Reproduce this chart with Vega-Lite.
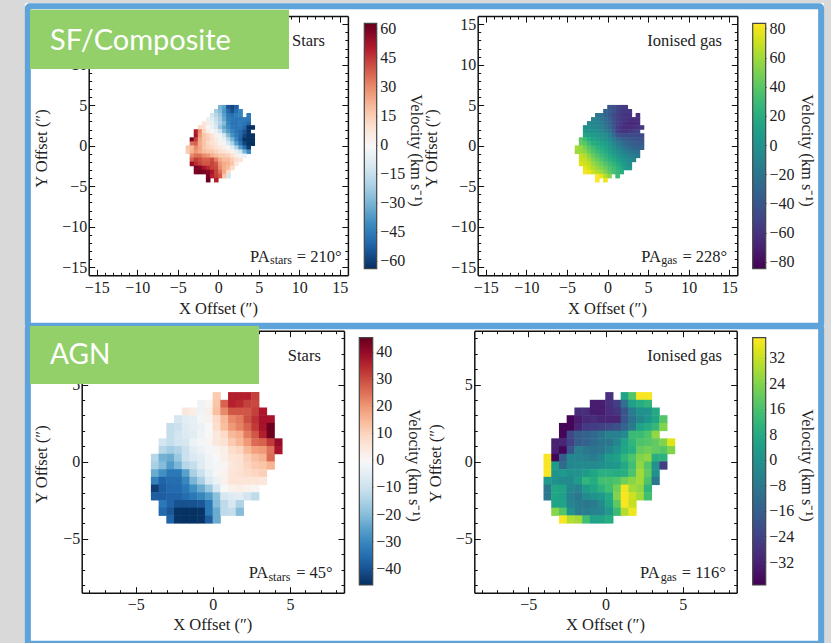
{"$schema":"https://vega.github.io/schema/vega-lite/v6.json","width":831,"height":643,"autosize":"none","padding":0,"background":"#ffffff",
"config":{"view":{"stroke":null},"axis":{"grid":false,"labelFont":"Liberation Serif","titleFont":"Liberation Serif","labelFontSize":16,"titleFontSize":16.5,"titleFontWeight":"normal","labelColor":"#222222","titleColor":"#222222","tickColor":"#111111","domainColor":"#111111","domainWidth":1.5,"tickWidth":1,"labelOverlap":false,"labelFlush":false,"labelBound":false,"titleAlign":"center","titleBaseline":"middle","format":"d"},"text":{"font":"Liberation Serif","fontSize":16.5,"color":"#222222","baseline":"alphabetic","align":"left"},"legend":{"title":null,"labelOpacity":0,"gradientStrokeColor":"#444444","gradientStrokeWidth":1.2}},
"resolve":{"scale":{"x":"independent","y":"independent","color":"independent"},"axis":{"x":"independent","y":"independent"},"legend":{"color":"independent"}},
"datasets":{
"sfStars":[{"x":0.25,"y":4.75,"v":-30},{"x":0.75,"y":4.75,"v":-35},{"x":1.25,"y":4.75,"v":-55},{"x":1.75,"y":4.75,"v":-58},{"x":2.25,"y":4.75,"v":-52},
{"x":-0.25,"y":4.25,"v":-22},{"x":0.25,"y":4.25,"v":-28},{"x":0.75,"y":4.25,"v":-37},{"x":1.25,"y":4.25,"v":-50},{"x":1.75,"y":4.25,"v":-56},{"x":2.25,"y":4.25,"v":-48},{"x":2.75,"y":4.25,"v":-42},
{"x":-0.75,"y":3.75,"v":-12},{"x":-0.25,"y":3.75,"v":-18},{"x":0.25,"y":3.75,"v":-25},{"x":0.75,"y":3.75,"v":-35},{"x":1.25,"y":3.75,"v":-46},{"x":1.75,"y":3.75,"v":-48},{"x":2.25,"y":3.75,"v":-44},{"x":2.75,"y":3.75,"v":-42},{"x":3.75,"y":3.75,"v":-45},
{"x":-1.25,"y":3.25,"v":-4},{"x":-0.75,"y":3.25,"v":-8},{"x":-0.25,"y":3.25,"v":-15},{"x":0.25,"y":3.25,"v":-22},{"x":0.75,"y":3.25,"v":-33},{"x":1.25,"y":3.25,"v":-44},{"x":1.75,"y":3.25,"v":-46},{"x":2.25,"y":3.25,"v":-47},{"x":2.75,"y":3.25,"v":-46},{"x":3.25,"y":3.25,"v":-45},{"x":3.75,"y":3.25,"v":-46},
{"x":-1.75,"y":2.75,"v":7},{"x":-1.25,"y":2.75,"v":5},{"x":-0.75,"y":2.75,"v":-5},{"x":-0.25,"y":2.75,"v":-13},{"x":0.25,"y":2.75,"v":-20},{"x":0.75,"y":2.75,"v":-28},{"x":1.25,"y":2.75,"v":-42},{"x":1.75,"y":2.75,"v":-47},{"x":2.25,"y":2.75,"v":-47},{"x":2.75,"y":2.75,"v":-45},{"x":3.25,"y":2.75,"v":-47},{"x":3.75,"y":2.75,"v":-50},
{"x":-2.25,"y":2.25,"v":12},{"x":-1.75,"y":2.25,"v":10},{"x":-1.25,"y":2.25,"v":0},{"x":-0.75,"y":2.25,"v":-4},{"x":-0.25,"y":2.25,"v":-11},{"x":0.25,"y":2.25,"v":-24},{"x":0.75,"y":2.25,"v":-33},{"x":1.25,"y":2.25,"v":-40},{"x":1.75,"y":2.25,"v":-46},{"x":2.25,"y":2.25,"v":-47},{"x":2.75,"y":2.25,"v":-46},{"x":3.25,"y":2.25,"v":-50},{"x":3.75,"y":2.25,"v":-63},{"x":4.25,"y":2.25,"v":-63},
{"x":-2.75,"y":1.75,"v":50},{"x":-2.25,"y":1.75,"v":30},{"x":-1.75,"y":1.75,"v":14},{"x":-1.25,"y":1.75,"v":4},{"x":-0.75,"y":1.75,"v":0},{"x":-0.25,"y":1.75,"v":-4},{"x":0.25,"y":1.75,"v":-13},{"x":0.75,"y":1.75,"v":-28},{"x":1.25,"y":1.75,"v":-36},{"x":1.75,"y":1.75,"v":-42},{"x":2.25,"y":1.75,"v":-47},{"x":2.75,"y":1.75,"v":-50},{"x":3.25,"y":1.75,"v":-55},{"x":3.75,"y":1.75,"v":-62},
{"x":-2.75,"y":1.25,"v":52},{"x":-2.25,"y":1.25,"v":28},{"x":-1.75,"y":1.25,"v":18},{"x":-1.25,"y":1.25,"v":14},{"x":-0.75,"y":1.25,"v":8},{"x":-0.25,"y":1.25,"v":3},{"x":0.25,"y":1.25,"v":-2},{"x":0.75,"y":1.25,"v":-12},{"x":1.25,"y":1.25,"v":-28},{"x":1.75,"y":1.25,"v":-38},{"x":2.25,"y":1.25,"v":-45},{"x":2.75,"y":1.25,"v":-50},{"x":3.25,"y":1.25,"v":-58},{"x":3.75,"y":1.25,"v":-63},{"x":4.25,"y":1.25,"v":-63},
{"x":-3.25,"y":0.75,"v":60},{"x":-2.75,"y":0.75,"v":45},{"x":-2.25,"y":0.75,"v":25},{"x":-1.75,"y":0.75,"v":18},{"x":-1.25,"y":0.75,"v":15},{"x":-0.75,"y":0.75,"v":10},{"x":-0.25,"y":0.75,"v":5},{"x":0.25,"y":0.75,"v":2},{"x":0.75,"y":0.75,"v":-5},{"x":1.25,"y":0.75,"v":-18},{"x":1.75,"y":0.75,"v":-30},{"x":2.25,"y":0.75,"v":-42},{"x":2.75,"y":0.75,"v":-52},{"x":3.25,"y":0.75,"v":-63},{"x":3.75,"y":0.75,"v":-63},{"x":4.25,"y":0.75,"v":-63},
{"x":-3.25,"y":0.25,"v":35},{"x":-2.75,"y":0.25,"v":38},{"x":-2.25,"y":0.25,"v":24},{"x":-1.75,"y":0.25,"v":18},{"x":-1.25,"y":0.25,"v":13},{"x":-0.75,"y":0.25,"v":10},{"x":-0.25,"y":0.25,"v":7},{"x":0.25,"y":0.25,"v":2},{"x":0.75,"y":0.25,"v":-2},{"x":1.25,"y":0.25,"v":-10},{"x":1.75,"y":0.25,"v":-20},{"x":2.25,"y":0.25,"v":-35},{"x":2.75,"y":0.25,"v":-47},{"x":3.25,"y":0.25,"v":-58},{"x":3.75,"y":0.25,"v":-63},{"x":4.25,"y":0.25,"v":-63},
{"x":-3.75,"y":-0.25,"v":18},{"x":-3.25,"y":-0.25,"v":20},{"x":-2.75,"y":-0.25,"v":30},{"x":-2.25,"y":-0.25,"v":25},{"x":-1.75,"y":-0.25,"v":18},{"x":-1.25,"y":-0.25,"v":15},{"x":-0.75,"y":-0.25,"v":13},{"x":-0.25,"y":-0.25,"v":9},{"x":0.25,"y":-0.25,"v":7},{"x":0.75,"y":-0.25,"v":3},{"x":1.25,"y":-0.25,"v":-1},{"x":1.75,"y":-0.25,"v":-8},{"x":2.25,"y":-0.25,"v":-20},{"x":2.75,"y":-0.25,"v":-35},{"x":3.25,"y":-0.25,"v":-47},{"x":3.75,"y":-0.25,"v":-60},
{"x":-3.75,"y":-0.75,"v":16},{"x":-3.25,"y":-0.75,"v":22},{"x":-2.75,"y":-0.75,"v":28},{"x":-2.25,"y":-0.75,"v":24},{"x":-1.75,"y":-0.75,"v":20},{"x":-1.25,"y":-0.75,"v":18},{"x":-0.75,"y":-0.75,"v":17},{"x":-0.25,"y":-0.75,"v":14},{"x":0.25,"y":-0.75,"v":11},{"x":0.75,"y":-0.75,"v":9},{"x":1.25,"y":-0.75,"v":6},{"x":1.75,"y":-0.75,"v":2},{"x":2.25,"y":-0.75,"v":-5},{"x":2.75,"y":-0.75,"v":-12},{"x":3.25,"y":-0.75,"v":-30},{"x":3.75,"y":-0.75,"v":-40},
{"x":-3.25,"y":-1.25,"v":30},{"x":-2.75,"y":-1.25,"v":35},{"x":-2.25,"y":-1.25,"v":35},{"x":-1.75,"y":-1.25,"v":30},{"x":-1.25,"y":-1.25,"v":28},{"x":-0.75,"y":-1.25,"v":23},{"x":-0.25,"y":-1.25,"v":20},{"x":0.25,"y":-1.25,"v":17},{"x":0.75,"y":-1.25,"v":16},{"x":1.25,"y":-1.25,"v":15},{"x":1.75,"y":-1.25,"v":10},{"x":2.25,"y":-1.25,"v":5},{"x":2.75,"y":-1.25,"v":-2},{"x":3.25,"y":-1.25,"v":-4},
{"x":-3.25,"y":-1.75,"v":38},{"x":-2.75,"y":-1.75,"v":45},{"x":-2.25,"y":-1.75,"v":42},{"x":-1.75,"y":-1.75,"v":38},{"x":-1.25,"y":-1.75,"v":38},{"x":-0.75,"y":-1.75,"v":42},{"x":-0.25,"y":-1.75,"v":32},{"x":0.25,"y":-1.75,"v":24},{"x":0.75,"y":-1.75,"v":20},{"x":1.25,"y":-1.75,"v":20},{"x":1.75,"y":-1.75,"v":16},{"x":2.25,"y":-1.75,"v":11},{"x":2.75,"y":-1.75,"v":8},
{"x":-3.25,"y":-2.25,"v":55},{"x":-2.75,"y":-2.25,"v":48},{"x":-2.25,"y":-2.25,"v":44},{"x":-1.75,"y":-2.25,"v":40},{"x":-1.25,"y":-2.25,"v":40},{"x":-0.75,"y":-2.25,"v":44},{"x":-0.25,"y":-2.25,"v":40},{"x":0.25,"y":-2.25,"v":28},{"x":0.75,"y":-2.25,"v":24},{"x":1.25,"y":-2.25,"v":22},{"x":1.75,"y":-2.25,"v":18},{"x":2.25,"y":-2.25,"v":6},
{"x":-2.75,"y":-2.75,"v":60},{"x":-2.25,"y":-2.75,"v":58},{"x":-1.75,"y":-2.75,"v":52},{"x":-1.25,"y":-2.75,"v":48},{"x":-0.75,"y":-2.75,"v":44},{"x":-0.25,"y":-2.75,"v":42},{"x":0.25,"y":-2.75,"v":30},{"x":0.75,"y":-2.75,"v":23},{"x":1.25,"y":-2.75,"v":20},{"x":1.75,"y":-2.75,"v":12},
{"x":-2.75,"y":-3.25,"v":60},{"x":-2.25,"y":-3.25,"v":62},{"x":-1.75,"y":-3.25,"v":60},{"x":-1.25,"y":-3.25,"v":58},{"x":-0.75,"y":-3.25,"v":52},{"x":-0.25,"y":-3.25,"v":44},{"x":0.25,"y":-3.25,"v":35},{"x":0.75,"y":-3.25,"v":24},{"x":1.25,"y":-3.25,"v":12},
{"x":-1.25,"y":-3.75,"v":60},{"x":-0.75,"y":-3.75,"v":50},{"x":-0.25,"y":-3.75,"v":45},{"x":0.25,"y":-3.75,"v":40},{"x":0.75,"y":-3.75,"v":18},{"x":1.25,"y":-3.75,"v":-12},
{"x":-1.25,"y":-4.25,"v":63},{"x":-0.25,"y":-4.25,"v":50}],
"sfGas":[{"x":0.25,"y":4.75,"v":-40},{"x":0.75,"y":4.75,"v":-45},{"x":1.25,"y":4.75,"v":-50},{"x":1.75,"y":4.75,"v":-55},{"x":2.25,"y":4.75,"v":-55},
{"x":-0.25,"y":4.25,"v":-30},{"x":0.25,"y":4.25,"v":-35},{"x":0.75,"y":4.25,"v":-42},{"x":1.25,"y":4.25,"v":-50},{"x":1.75,"y":4.25,"v":-55},{"x":2.25,"y":4.25,"v":-57},{"x":2.75,"y":4.25,"v":-58},
{"x":-1.25,"y":3.75,"v":-18},{"x":-0.75,"y":3.75,"v":-22},{"x":-0.25,"y":3.75,"v":-30},{"x":0.25,"y":3.75,"v":-38},{"x":0.75,"y":3.75,"v":-47},{"x":1.25,"y":3.75,"v":-54},{"x":1.75,"y":3.75,"v":-58},{"x":2.25,"y":3.75,"v":-60},{"x":2.75,"y":3.75,"v":-60},{"x":3.75,"y":3.75,"v":-62},
{"x":-1.75,"y":3.25,"v":-10},{"x":-1.25,"y":3.25,"v":-13},{"x":-0.75,"y":3.25,"v":-18},{"x":-0.25,"y":3.25,"v":-26},{"x":0.25,"y":3.25,"v":-34},{"x":0.75,"y":3.25,"v":-45},{"x":1.25,"y":3.25,"v":-53},{"x":1.75,"y":3.25,"v":-58},{"x":2.25,"y":3.25,"v":-60},{"x":2.75,"y":3.25,"v":-62},{"x":3.25,"y":3.25,"v":-63},{"x":3.75,"y":3.25,"v":-62},
{"x":-2.25,"y":2.75,"v":-5},{"x":-1.75,"y":2.75,"v":-7},{"x":-1.25,"y":2.75,"v":-10},{"x":-0.75,"y":2.75,"v":-14},{"x":-0.25,"y":2.75,"v":-22},{"x":0.25,"y":2.75,"v":-30},{"x":0.75,"y":2.75,"v":-42},{"x":1.25,"y":2.75,"v":-52},{"x":1.75,"y":2.75,"v":-58},{"x":2.25,"y":2.75,"v":-62},{"x":2.75,"y":2.75,"v":-65},{"x":3.25,"y":2.75,"v":-65},{"x":3.75,"y":2.75,"v":-62},
{"x":-2.75,"y":2.25,"v":0},{"x":-2.25,"y":2.25,"v":-2},{"x":-1.75,"y":2.25,"v":-4},{"x":-1.25,"y":2.25,"v":-7},{"x":-0.75,"y":2.25,"v":-11},{"x":-0.25,"y":2.25,"v":-20},{"x":0.25,"y":2.25,"v":-28},{"x":0.75,"y":2.25,"v":-40},{"x":1.25,"y":2.25,"v":-55},{"x":1.75,"y":2.25,"v":-60},{"x":2.25,"y":2.25,"v":-63},{"x":2.75,"y":2.25,"v":-63},{"x":3.25,"y":2.25,"v":-62},{"x":3.75,"y":2.25,"v":-60},{"x":4.25,"y":2.25,"v":-58},
{"x":-2.75,"y":1.75,"v":5},{"x":-2.25,"y":1.75,"v":3},{"x":-1.75,"y":1.75,"v":2},{"x":-1.25,"y":1.75,"v":-1},{"x":-0.75,"y":1.75,"v":-6},{"x":-0.25,"y":1.75,"v":-12},{"x":0.25,"y":1.75,"v":-20},{"x":0.75,"y":1.75,"v":-35},{"x":1.25,"y":1.75,"v":-52},{"x":1.75,"y":1.75,"v":-58},{"x":2.25,"y":1.75,"v":-60},{"x":2.75,"y":1.75,"v":-58},{"x":3.25,"y":1.75,"v":-55},{"x":3.75,"y":1.75,"v":-52},
{"x":-2.75,"y":1.25,"v":15},{"x":-2.25,"y":1.25,"v":12},{"x":-1.75,"y":1.25,"v":8},{"x":-1.25,"y":1.25,"v":5},{"x":-0.75,"y":1.25,"v":1},{"x":-0.25,"y":1.25,"v":-3},{"x":0.25,"y":1.25,"v":-12},{"x":0.75,"y":1.25,"v":-25},{"x":1.25,"y":1.25,"v":-40},{"x":1.75,"y":1.25,"v":-46},{"x":2.25,"y":1.25,"v":-47},{"x":2.75,"y":1.25,"v":-47},{"x":3.25,"y":1.25,"v":-47},{"x":3.75,"y":1.25,"v":-48},{"x":4.25,"y":1.25,"v":-48},
{"x":-3.25,"y":0.75,"v":40},{"x":-2.75,"y":0.75,"v":32},{"x":-2.25,"y":0.75,"v":22},{"x":-1.75,"y":0.75,"v":15},{"x":-1.25,"y":0.75,"v":11},{"x":-0.75,"y":0.75,"v":7},{"x":-0.25,"y":0.75,"v":2},{"x":0.25,"y":0.75,"v":-5},{"x":0.75,"y":0.75,"v":-15},{"x":1.25,"y":0.75,"v":-25},{"x":1.75,"y":0.75,"v":-30},{"x":2.25,"y":0.75,"v":-35},{"x":2.75,"y":0.75,"v":-38},{"x":3.25,"y":0.75,"v":-40},{"x":3.75,"y":0.75,"v":-42},{"x":4.25,"y":0.75,"v":-42},
{"x":-3.25,"y":0.25,"v":45},{"x":-2.75,"y":0.25,"v":40},{"x":-2.25,"y":0.25,"v":30},{"x":-1.75,"y":0.25,"v":22},{"x":-1.25,"y":0.25,"v":18},{"x":-0.75,"y":0.25,"v":14},{"x":-0.25,"y":0.25,"v":9},{"x":0.25,"y":0.25,"v":3},{"x":0.75,"y":0.25,"v":-7},{"x":1.25,"y":0.25,"v":-15},{"x":1.75,"y":0.25,"v":-22},{"x":2.25,"y":0.25,"v":-28},{"x":2.75,"y":0.25,"v":-32},{"x":3.25,"y":0.25,"v":-36},{"x":3.75,"y":0.25,"v":-38},{"x":4.25,"y":0.25,"v":-38},
{"x":-3.75,"y":-0.25,"v":62},{"x":-3.25,"y":-0.25,"v":58},{"x":-2.75,"y":-0.25,"v":50},{"x":-2.25,"y":-0.25,"v":40},{"x":-1.75,"y":-0.25,"v":32},{"x":-1.25,"y":-0.25,"v":25},{"x":-0.75,"y":-0.25,"v":20},{"x":-0.25,"y":-0.25,"v":14},{"x":0.25,"y":-0.25,"v":8},{"x":0.75,"y":-0.25,"v":0},{"x":1.25,"y":-0.25,"v":-8},{"x":1.75,"y":-0.25,"v":-14},{"x":2.25,"y":-0.25,"v":-20},{"x":2.75,"y":-0.25,"v":-25},{"x":3.25,"y":-0.25,"v":-30},{"x":3.75,"y":-0.25,"v":-33},{"x":4.25,"y":-0.25,"v":-33},
{"x":-3.75,"y":-0.75,"v":60},{"x":-3.25,"y":-0.75,"v":58},{"x":-2.75,"y":-0.75,"v":55},{"x":-2.25,"y":-0.75,"v":45},{"x":-1.75,"y":-0.75,"v":38},{"x":-1.25,"y":-0.75,"v":30},{"x":-0.75,"y":-0.75,"v":25},{"x":-0.25,"y":-0.75,"v":20},{"x":0.25,"y":-0.75,"v":12},{"x":0.75,"y":-0.75,"v":5},{"x":1.25,"y":-0.75,"v":-2},{"x":1.75,"y":-0.75,"v":-8},{"x":2.25,"y":-0.75,"v":-14},{"x":2.75,"y":-0.75,"v":-18},{"x":3.25,"y":-0.75,"v":-22},{"x":3.75,"y":-0.75,"v":-24},
{"x":-3.25,"y":-1.25,"v":70},{"x":-2.75,"y":-1.25,"v":65},{"x":-2.25,"y":-1.25,"v":55},{"x":-1.75,"y":-1.25,"v":45},{"x":-1.25,"y":-1.25,"v":38},{"x":-0.75,"y":-1.25,"v":30},{"x":-0.25,"y":-1.25,"v":25},{"x":0.25,"y":-1.25,"v":18},{"x":0.75,"y":-1.25,"v":12},{"x":1.25,"y":-1.25,"v":5},{"x":1.75,"y":-1.25,"v":-1},{"x":2.25,"y":-1.25,"v":-6},{"x":2.75,"y":-1.25,"v":-10},{"x":3.25,"y":-1.25,"v":-15},{"x":3.75,"y":-1.25,"v":-18},
{"x":-3.25,"y":-1.75,"v":72},{"x":-2.75,"y":-1.75,"v":70},{"x":-2.25,"y":-1.75,"v":62},{"x":-1.75,"y":-1.75,"v":52},{"x":-1.25,"y":-1.75,"v":45},{"x":-0.75,"y":-1.75,"v":38},{"x":-0.25,"y":-1.75,"v":30},{"x":0.25,"y":-1.75,"v":24},{"x":0.75,"y":-1.75,"v":18},{"x":1.25,"y":-1.75,"v":12},{"x":1.75,"y":-1.75,"v":5},{"x":2.25,"y":-1.75,"v":0},{"x":2.75,"y":-1.75,"v":-5},{"x":3.25,"y":-1.75,"v":-8},
{"x":-3.25,"y":-2.25,"v":75},{"x":-2.75,"y":-2.25,"v":72},{"x":-2.25,"y":-2.25,"v":68},{"x":-1.75,"y":-2.25,"v":58},{"x":-1.25,"y":-2.25,"v":52},{"x":-0.75,"y":-2.25,"v":45},{"x":-0.25,"y":-2.25,"v":38},{"x":0.25,"y":-2.25,"v":32},{"x":0.75,"y":-2.25,"v":25},{"x":1.25,"y":-2.25,"v":18},{"x":1.75,"y":-2.25,"v":12},{"x":2.25,"y":-2.25,"v":5},{"x":2.75,"y":-2.25,"v":-2},
{"x":-2.75,"y":-2.75,"v":78},{"x":-2.25,"y":-2.75,"v":72},{"x":-1.75,"y":-2.75,"v":65},{"x":-1.25,"y":-2.75,"v":58},{"x":-0.75,"y":-2.75,"v":52},{"x":-0.25,"y":-2.75,"v":45},{"x":0.25,"y":-2.75,"v":38},{"x":0.75,"y":-2.75,"v":32},{"x":1.25,"y":-2.75,"v":25},{"x":1.75,"y":-2.75,"v":18},{"x":2.25,"y":-2.75,"v":8},{"x":2.75,"y":-2.75,"v":3},
{"x":-2.75,"y":-3.25,"v":82},{"x":-2.25,"y":-3.25,"v":80},{"x":-1.75,"y":-3.25,"v":72},{"x":-1.25,"y":-3.25,"v":65},{"x":-0.75,"y":-3.25,"v":60},{"x":-0.25,"y":-3.25,"v":52},{"x":0.25,"y":-3.25,"v":42},{"x":0.75,"y":-3.25,"v":35},{"x":1.25,"y":-3.25,"v":28},{"x":1.75,"y":-3.25,"v":22},
{"x":-1.25,"y":-3.75,"v":84},{"x":-0.75,"y":-3.75,"v":80},{"x":-0.25,"y":-3.75,"v":65},{"x":0.25,"y":-3.75,"v":55},{"x":1.25,"y":-3.75,"v":30},
{"x":-1.25,"y":-4.25,"v":84},{"x":-0.25,"y":-4.25,"v":80}],
"agnStars":[{"x":0.25,"y":4.25,"v":12},{"x":1.25,"y":4.25,"v":36},{"x":1.75,"y":4.25,"v":36},{"x":2.25,"y":4.25,"v":36},{"x":2.75,"y":4.25,"v":32},
{"x":-0.75,"y":3.75,"v":-2},{"x":-0.25,"y":3.75,"v":1},{"x":0.25,"y":3.75,"v":13},{"x":0.75,"y":3.75,"v":27},{"x":1.25,"y":3.75,"v":36},{"x":1.75,"y":3.75,"v":35},{"x":2.25,"y":3.75,"v":32},{"x":2.75,"y":3.75,"v":31},
{"x":-1.75,"y":3.25,"v":5},{"x":-1.25,"y":3.25,"v":3},{"x":-0.75,"y":3.25,"v":-2},{"x":-0.25,"y":3.25,"v":3},{"x":0.25,"y":3.25,"v":14},{"x":0.75,"y":3.25,"v":22},{"x":1.25,"y":3.25,"v":29},{"x":1.75,"y":3.25,"v":29},{"x":2.25,"y":3.25,"v":29},{"x":2.75,"y":3.25,"v":32},{"x":3.25,"y":3.25,"v":37},
{"x":-2.25,"y":2.75,"v":-8},{"x":-1.75,"y":2.75,"v":-5},{"x":-1.25,"y":2.75,"v":-4},{"x":-0.75,"y":2.75,"v":-1},{"x":-0.25,"y":2.75,"v":2},{"x":0.25,"y":2.75,"v":9},{"x":0.75,"y":2.75,"v":15},{"x":1.25,"y":2.75,"v":22},{"x":1.75,"y":2.75,"v":24},{"x":2.25,"y":2.75,"v":30},{"x":2.75,"y":2.75,"v":34},{"x":3.25,"y":2.75,"v":38},{"x":3.75,"y":2.75,"v":38},
{"x":-2.75,"y":2.25,"v":-11},{"x":-2.25,"y":2.25,"v":-10},{"x":-1.75,"y":2.25,"v":-6},{"x":-1.25,"y":2.25,"v":-4},{"x":-0.75,"y":2.25,"v":-3},{"x":-0.25,"y":2.25,"v":0},{"x":0.25,"y":2.25,"v":8},{"x":0.75,"y":2.25,"v":14},{"x":1.25,"y":2.25,"v":20},{"x":1.75,"y":2.25,"v":23},{"x":2.25,"y":2.25,"v":27},{"x":2.75,"y":2.25,"v":33},{"x":3.25,"y":2.25,"v":38},{"x":3.75,"y":2.25,"v":45},
{"x":-2.75,"y":1.75,"v":-11},{"x":-2.25,"y":1.75,"v":-9},{"x":-1.75,"y":1.75,"v":-6},{"x":-1.25,"y":1.75,"v":-5},{"x":-0.75,"y":1.75,"v":-2},{"x":-0.25,"y":1.75,"v":0},{"x":0.25,"y":1.75,"v":5},{"x":0.75,"y":1.75,"v":9},{"x":1.25,"y":1.75,"v":15},{"x":1.75,"y":1.75,"v":17},{"x":2.25,"y":1.75,"v":24},{"x":2.75,"y":1.75,"v":29},{"x":3.25,"y":1.75,"v":36},{"x":3.75,"y":1.75,"v":45},
{"x":-3.25,"y":1.25,"v":-9},{"x":-2.75,"y":1.25,"v":-11},{"x":-2.25,"y":1.25,"v":-9},{"x":-1.75,"y":1.25,"v":-8},{"x":-1.25,"y":1.25,"v":-3},{"x":-0.75,"y":1.25,"v":-1},{"x":-0.25,"y":1.25,"v":1},{"x":0.25,"y":1.25,"v":5},{"x":0.75,"y":1.25,"v":7},{"x":1.25,"y":1.25,"v":12},{"x":1.75,"y":1.25,"v":15},{"x":2.25,"y":1.25,"v":20},{"x":2.75,"y":1.25,"v":26},{"x":3.25,"y":1.25,"v":27},{"x":3.75,"y":1.25,"v":33},{"x":4.25,"y":1.25,"v":40},
{"x":-3.25,"y":0.75,"v":-13},{"x":-2.75,"y":0.75,"v":-16},{"x":-2.25,"y":0.75,"v":-14},{"x":-1.75,"y":0.75,"v":-10},{"x":-1.25,"y":0.75,"v":-5},{"x":-0.75,"y":0.75,"v":-3},{"x":-0.25,"y":0.75,"v":-1},{"x":0.25,"y":0.75,"v":1},{"x":0.75,"y":0.75,"v":3},{"x":1.25,"y":0.75,"v":8},{"x":1.75,"y":0.75,"v":10},{"x":2.25,"y":0.75,"v":15},{"x":2.75,"y":0.75,"v":19},{"x":3.25,"y":0.75,"v":20},{"x":3.75,"y":0.75,"v":25},{"x":4.25,"y":0.75,"v":38},
{"x":-3.75,"y":0.25,"v":-13},{"x":-3.25,"y":0.25,"v":-22},{"x":-2.75,"y":0.25,"v":-23},{"x":-2.25,"y":0.25,"v":-17},{"x":-1.75,"y":0.25,"v":-10},{"x":-1.25,"y":0.25,"v":-7},{"x":-0.75,"y":0.25,"v":-5},{"x":-0.25,"y":0.25,"v":-2},{"x":0.25,"y":0.25,"v":0},{"x":0.75,"y":0.25,"v":3},{"x":1.25,"y":0.25,"v":6},{"x":1.75,"y":0.25,"v":7},{"x":2.25,"y":0.25,"v":11},{"x":2.75,"y":0.25,"v":14},{"x":3.25,"y":0.25,"v":16},{"x":3.75,"y":0.25,"v":26},
{"x":-3.75,"y":-0.25,"v":-15},{"x":-3.25,"y":-0.25,"v":-20},{"x":-2.75,"y":-0.25,"v":-26},{"x":-2.25,"y":-0.25,"v":-21},{"x":-1.75,"y":-0.25,"v":-13},{"x":-1.25,"y":-0.25,"v":-11},{"x":-0.75,"y":-0.25,"v":-6},{"x":-0.25,"y":-0.25,"v":-2},{"x":0.25,"y":-0.25,"v":-1},{"x":0.75,"y":-0.25,"v":1},{"x":1.25,"y":-0.25,"v":5},{"x":1.75,"y":-0.25,"v":7},{"x":2.25,"y":-0.25,"v":10},{"x":2.75,"y":-0.25,"v":12},{"x":3.25,"y":-0.25,"v":13},{"x":3.75,"y":-0.25,"v":16},
{"x":-3.75,"y":-0.75,"v":-23},{"x":-3.25,"y":-0.75,"v":-28},{"x":-2.75,"y":-0.75,"v":-33},{"x":-2.25,"y":-0.75,"v":-33},{"x":-1.75,"y":-0.75,"v":-25},{"x":-1.25,"y":-0.75,"v":-15},{"x":-0.75,"y":-0.75,"v":-10},{"x":-0.25,"y":-0.75,"v":-4},{"x":0.25,"y":-0.75,"v":-1},{"x":0.75,"y":-0.75,"v":2},{"x":1.25,"y":-0.75,"v":6},{"x":1.75,"y":-0.75,"v":7},{"x":2.25,"y":-0.75,"v":9},{"x":2.75,"y":-0.75,"v":10},{"x":3.25,"y":-0.75,"v":11},
{"x":-3.75,"y":-1.25,"v":-31},{"x":-3.25,"y":-1.25,"v":-37},{"x":-2.75,"y":-1.25,"v":-35},{"x":-2.25,"y":-1.25,"v":-35},{"x":-1.75,"y":-1.25,"v":-30},{"x":-1.25,"y":-1.25,"v":-21},{"x":-0.75,"y":-1.25,"v":-15},{"x":-0.25,"y":-1.25,"v":-7},{"x":0.25,"y":-1.25,"v":-3},{"x":0.75,"y":-1.25,"v":2},{"x":1.25,"y":-1.25,"v":6},{"x":1.75,"y":-1.25,"v":6},{"x":2.25,"y":-1.25,"v":6},{"x":2.75,"y":-1.25,"v":6},{"x":3.25,"y":-1.25,"v":5},
{"x":-3.75,"y":-1.75,"v":-43},{"x":-3.25,"y":-1.75,"v":-38},{"x":-2.75,"y":-1.75,"v":-36},{"x":-2.25,"y":-1.75,"v":-36},{"x":-1.75,"y":-1.75,"v":-33},{"x":-1.25,"y":-1.75,"v":-28},{"x":-0.75,"y":-1.75,"v":-23},{"x":-0.25,"y":-1.75,"v":-17},{"x":0.25,"y":-1.75,"v":-8},{"x":0.75,"y":-1.75,"v":0},{"x":1.25,"y":-1.75,"v":2},{"x":1.75,"y":-1.75,"v":3},{"x":2.25,"y":-1.75,"v":2},{"x":2.75,"y":-1.75,"v":1},
{"x":-3.75,"y":-2.25,"v":-38},{"x":-3.25,"y":-2.25,"v":-38},{"x":-2.75,"y":-2.25,"v":-37},{"x":-2.25,"y":-2.25,"v":-37},{"x":-1.75,"y":-2.25,"v":-35},{"x":-1.25,"y":-2.25,"v":-33},{"x":-0.75,"y":-2.25,"v":-30},{"x":-0.25,"y":-2.25,"v":-26},{"x":0.25,"y":-2.25,"v":-19},{"x":0.75,"y":-2.25,"v":-8},{"x":1.25,"y":-2.25,"v":-6},{"x":1.75,"y":-2.25,"v":-5},{"x":2.25,"y":-2.25,"v":-9},{"x":2.75,"y":-2.25,"v":-12},
{"x":-3.25,"y":-2.75,"v":-33},{"x":-2.75,"y":-2.75,"v":-37},{"x":-2.25,"y":-2.75,"v":-40},{"x":-1.75,"y":-2.75,"v":-40},{"x":-1.25,"y":-2.75,"v":-40},{"x":-0.75,"y":-2.75,"v":-39},{"x":-0.25,"y":-2.75,"v":-33},{"x":0.25,"y":-2.75,"v":-20},{"x":0.75,"y":-2.75,"v":-12},{"x":1.25,"y":-2.75,"v":-8},{"x":1.75,"y":-2.75,"v":-14},
{"x":-3.25,"y":-3.25,"v":-36},{"x":-2.75,"y":-3.25,"v":-39},{"x":-2.25,"y":-3.25,"v":-45},{"x":-1.75,"y":-3.25,"v":-45.5},{"x":-1.25,"y":-3.25,"v":-45.5},{"x":-0.75,"y":-3.25,"v":-45},{"x":-0.25,"y":-3.25,"v":-33},{"x":0.25,"y":-3.25,"v":-23},{"x":0.75,"y":-3.25,"v":-12},{"x":1.25,"y":-3.25,"v":-11},{"x":1.75,"y":-3.25,"v":-20},
{"x":-2.75,"y":-3.75,"v":-37},{"x":-2.25,"y":-3.75,"v":-45},{"x":-1.75,"y":-3.75,"v":-45.5},{"x":-1.25,"y":-3.75,"v":-45.5},{"x":-0.75,"y":-3.75,"v":-45},{"x":-0.25,"y":-3.75,"v":-38},{"x":0.25,"y":-3.75,"v":-23}],
"agnGas":[{"x":0.25,"y":4.25,"v":-28},{"x":1.25,"y":4.25,"v":6},{"x":1.75,"y":4.25,"v":18},{"x":2.25,"y":4.25,"v":38},{"x":2.75,"y":4.25,"v":38},
{"x":-0.75,"y":3.75,"v":-33},{"x":-0.25,"y":3.75,"v":-33},{"x":0.25,"y":3.75,"v":-28},{"x":0.75,"y":3.75,"v":-25},{"x":1.25,"y":3.75,"v":-10},{"x":1.75,"y":3.75,"v":5},{"x":2.25,"y":3.75,"v":9},{"x":2.75,"y":3.75,"v":12},
{"x":-1.75,"y":3.25,"v":-29},{"x":-1.25,"y":3.25,"v":-29},{"x":-0.75,"y":3.25,"v":-33},{"x":-0.25,"y":3.25,"v":-33},{"x":0.25,"y":3.25,"v":-29},{"x":0.75,"y":3.25,"v":-27},{"x":1.25,"y":3.25,"v":-18},{"x":1.75,"y":3.25,"v":-7},{"x":2.25,"y":3.25,"v":0},{"x":2.75,"y":3.25,"v":0},{"x":3.25,"y":3.25,"v":8},
{"x":-2.25,"y":2.75,"v":-38},{"x":-1.75,"y":2.75,"v":-33},{"x":-1.25,"y":2.75,"v":-30},{"x":-0.75,"y":2.75,"v":-29},{"x":-0.25,"y":2.75,"v":-31},{"x":0.25,"y":2.75,"v":-31},{"x":0.75,"y":2.75,"v":-31},{"x":1.25,"y":2.75,"v":-18},{"x":1.75,"y":2.75,"v":-9},{"x":2.25,"y":2.75,"v":-3},{"x":2.75,"y":2.75,"v":2},{"x":3.25,"y":2.75,"v":7},{"x":3.75,"y":2.75,"v":18},
{"x":-2.75,"y":2.25,"v":-38},{"x":-2.25,"y":2.25,"v":-38},{"x":-1.75,"y":2.25,"v":-31},{"x":-1.25,"y":2.25,"v":-26},{"x":-0.75,"y":2.25,"v":-25},{"x":-0.25,"y":2.25,"v":-24},{"x":0.25,"y":2.25,"v":-22},{"x":0.75,"y":2.25,"v":-20},{"x":1.25,"y":2.25,"v":-14},{"x":1.75,"y":2.25,"v":-7},{"x":2.25,"y":2.25,"v":6},{"x":2.75,"y":2.25,"v":9},{"x":3.25,"y":2.25,"v":13},{"x":3.75,"y":2.25,"v":24},
{"x":-2.75,"y":1.75,"v":-38},{"x":-2.25,"y":1.75,"v":-22},{"x":-1.75,"y":1.75,"v":-16},{"x":-1.25,"y":1.75,"v":-15},{"x":-0.75,"y":1.75,"v":-13},{"x":-0.25,"y":1.75,"v":-9},{"x":0.25,"y":1.75,"v":-5},{"x":0.75,"y":1.75,"v":-5},{"x":1.25,"y":1.75,"v":-2},{"x":1.75,"y":1.75,"v":14},{"x":2.25,"y":1.75,"v":14},{"x":2.75,"y":1.75,"v":17},{"x":3.25,"y":1.75,"v":26},
{"x":-3.25,"y":1.25,"v":-32},{"x":-2.75,"y":1.25,"v":-31},{"x":-2.25,"y":1.25,"v":-24},{"x":-1.75,"y":1.25,"v":-16},{"x":-1.25,"y":1.25,"v":-15},{"x":-0.75,"y":1.25,"v":-12},{"x":-0.25,"y":1.25,"v":-9},{"x":0.25,"y":1.25,"v":-8},{"x":0.75,"y":1.25,"v":-3},{"x":1.25,"y":1.25,"v":6},{"x":1.75,"y":1.25,"v":12},{"x":2.25,"y":1.25,"v":17},{"x":2.75,"y":1.25,"v":18},{"x":3.25,"y":1.25,"v":20},{"x":3.75,"y":1.25,"v":24},{"x":4.25,"y":1.25,"v":35},
{"x":-3.25,"y":0.75,"v":-32},{"x":-2.75,"y":0.75,"v":-38},{"x":-2.25,"y":0.75,"v":-18},{"x":-1.75,"y":0.75,"v":-5},{"x":-1.25,"y":0.75,"v":-8},{"x":-0.75,"y":0.75,"v":-9},{"x":-0.25,"y":0.75,"v":-8},{"x":0.25,"y":0.75,"v":-4},{"x":0.75,"y":0.75,"v":1},{"x":1.25,"y":0.75,"v":7},{"x":1.75,"y":0.75,"v":10},{"x":2.25,"y":0.75,"v":20},{"x":2.75,"y":0.75,"v":22},{"x":3.25,"y":0.75,"v":20},{"x":3.75,"y":0.75,"v":18},{"x":4.25,"y":0.75,"v":24},
{"x":-3.75,"y":0.25,"v":38},{"x":-3.25,"y":0.25,"v":-38},{"x":-2.75,"y":0.25,"v":-16},{"x":-2.25,"y":0.25,"v":-3},{"x":-1.75,"y":0.25,"v":-4},{"x":-1.25,"y":0.25,"v":-5},{"x":-0.75,"y":0.25,"v":-7},{"x":-0.25,"y":0.25,"v":-3},{"x":0.25,"y":0.25,"v":4},{"x":0.75,"y":0.25,"v":5},{"x":1.25,"y":0.25,"v":12},{"x":1.75,"y":0.25,"v":17},{"x":2.25,"y":0.25,"v":24},{"x":2.75,"y":0.25,"v":26},{"x":3.25,"y":0.25,"v":10},{"x":3.75,"y":0.25,"v":11},
{"x":-3.75,"y":-0.25,"v":38},{"x":-3.25,"y":-0.25,"v":4},{"x":-2.75,"y":-0.25,"v":-12},{"x":-2.25,"y":-0.25,"v":-3},{"x":-1.75,"y":-0.25,"v":-2},{"x":-1.25,"y":-0.25,"v":-2},{"x":-0.75,"y":-0.25,"v":-2},{"x":-0.25,"y":-0.25,"v":-1},{"x":0.25,"y":-0.25,"v":2},{"x":0.75,"y":-0.25,"v":3},{"x":1.25,"y":-0.25,"v":8},{"x":1.75,"y":-0.25,"v":15},{"x":2.25,"y":-0.25,"v":26},{"x":2.75,"y":-0.25,"v":18},{"x":3.25,"y":-0.25,"v":1},{"x":3.75,"y":-0.25,"v":-25},
{"x":-3.75,"y":-0.75,"v":38},{"x":-3.25,"y":-0.75,"v":1},{"x":-2.75,"y":-0.75,"v":3},{"x":-2.25,"y":-0.75,"v":0},{"x":-1.75,"y":-0.75,"v":1},{"x":-1.25,"y":-0.75,"v":4},{"x":-0.75,"y":-0.75,"v":7},{"x":-0.25,"y":-0.75,"v":10},{"x":0.25,"y":-0.75,"v":10},{"x":0.75,"y":-0.75,"v":9},{"x":1.25,"y":-0.75,"v":10},{"x":1.75,"y":-0.75,"v":17},{"x":2.25,"y":-0.75,"v":28},{"x":2.75,"y":-0.75,"v":20},{"x":3.25,"y":-0.75,"v":0},
{"x":-3.75,"y":-1.25,"v":3},{"x":-3.25,"y":-1.25,"v":0},{"x":-2.75,"y":-1.25,"v":-2},{"x":-2.25,"y":-1.25,"v":-2},{"x":-1.75,"y":-1.25,"v":4},{"x":-1.25,"y":-1.25,"v":12},{"x":-0.75,"y":-1.25,"v":9},{"x":-0.25,"y":-1.25,"v":15},{"x":0.25,"y":-1.25,"v":16},{"x":0.75,"y":-1.25,"v":17},{"x":1.25,"y":-1.25,"v":22},{"x":1.75,"y":-1.25,"v":25},{"x":2.25,"y":-1.25,"v":28},{"x":2.75,"y":-1.25,"v":17},{"x":3.25,"y":-1.25,"v":-8},
{"x":-3.75,"y":-1.75,"v":-8},{"x":-3.25,"y":-1.75,"v":7},{"x":-2.75,"y":-1.75,"v":6},{"x":-2.25,"y":-1.75,"v":-3},{"x":-1.75,"y":-1.75,"v":-5},{"x":-1.25,"y":-1.75,"v":4},{"x":-0.75,"y":-1.75,"v":7},{"x":-0.25,"y":-1.75,"v":11},{"x":0.25,"y":-1.75,"v":15},{"x":0.75,"y":-1.75,"v":22},{"x":1.25,"y":-1.75,"v":37},{"x":1.75,"y":-1.75,"v":28},{"x":2.25,"y":-1.75,"v":26},{"x":2.75,"y":-1.75,"v":12},
{"x":-3.75,"y":-2.25,"v":-8},{"x":-3.25,"y":-2.25,"v":7},{"x":-2.75,"y":-2.25,"v":5},{"x":-2.25,"y":-2.25,"v":-5},{"x":-1.75,"y":-2.25,"v":-8},{"x":-1.25,"y":-2.25,"v":-2},{"x":-0.75,"y":-2.25,"v":1},{"x":-0.25,"y":-2.25,"v":3},{"x":0.25,"y":-2.25,"v":8},{"x":0.75,"y":-2.25,"v":24},{"x":1.25,"y":-2.25,"v":38},{"x":1.75,"y":-2.25,"v":33},{"x":2.25,"y":-2.25,"v":28},{"x":2.75,"y":-2.25,"v":15},
{"x":-3.25,"y":-2.75,"v":6},{"x":-2.75,"y":-2.75,"v":6},{"x":-2.25,"y":-2.75,"v":-4},{"x":-1.75,"y":-2.75,"v":-7},{"x":-1.25,"y":-2.75,"v":-8},{"x":-0.75,"y":-2.75,"v":-7},{"x":-0.25,"y":-2.75,"v":-2},{"x":0.25,"y":-2.75,"v":7},{"x":0.75,"y":-2.75,"v":19},{"x":1.25,"y":-2.75,"v":38},{"x":1.75,"y":-2.75,"v":32},
{"x":-3.25,"y":-3.25,"v":25},{"x":-2.75,"y":-3.25,"v":18},{"x":-2.25,"y":-3.25,"v":1},{"x":-1.75,"y":-3.25,"v":-7},{"x":-1.25,"y":-3.25,"v":-6},{"x":-0.75,"y":-3.25,"v":-5},{"x":-0.25,"y":-3.25,"v":-3},{"x":0.25,"y":-3.25,"v":3},{"x":0.75,"y":-3.25,"v":14},{"x":1.25,"y":-3.25,"v":30},{"x":1.75,"y":-3.25,"v":37},
{"x":-2.75,"y":-3.75,"v":38},{"x":-2.25,"y":-3.75,"v":30},{"x":-1.75,"y":-3.75,"v":28},{"x":-1.25,"y":-3.75,"v":15},{"x":-0.75,"y":-3.75,"v":6},{"x":-0.25,"y":-3.75,"v":6},{"x":0.25,"y":-3.75,"v":9}]
},
"layer":[
{"data":{"name":"sfStars"},"mark":{"type":"rect","width":4.6,"height":4.6},"encoding":{
"x":{"field":"x","type":"quantitative","scale":{"domain":[-16,16],"range":[88.7,347.9]},"axis":{"orient":"bottom","offset":-367.7,"values":[-15,-14,-13,-12,-11,-10,-9,-8,-7,-6,-5,-4,-3,-2,-1,0,1,2,3,4,5,6,7,8,9,10,11,12,13,14,15],"labelExpr":"datum.value%5===0?datum.label:''","tickSize":{"condition":{"test":"datum.value%5===0","value":-6},"value":-3},"labelPadding":10,"title":"X Offset (″)","titleX":218,"titleY":33}},
"y":{"field":"y","type":"quantitative","scale":{"domain":[-16,16],"range":[275.3,16.1]},"axis":{"orient":"left","offset":-88.7,"values":[-15,-14,-13,-12,-11,-10,-9,-8,-7,-6,-5,-4,-3,-2,-1,0,1,2,3,4,5,6,7,8,9,10,11,12,13,14,15],"labelExpr":"datum.value%5===0?datum.label:''","tickSize":{"condition":{"test":"datum.value%5===0","value":-6},"value":-3},"labelPadding":8,"title":"Y Offset (″)","titleX":-46.7,"titleY":148}},
"color":{"field":"v","type":"quantitative","scale":{"domain":[-63.3,-50.64,-37.98,-25.32,-12.66,0,12.66,25.32,37.98,50.64,63.3],"range":["#053061","#2166ac","#4393c3","#92c5de","#d1e5f0","#f7f7f7","#fddbc7","#f4a582","#d6604d","#b2182b","#67001f"]},"legend":{"orient":"none","direction":"vertical","legendX":364.3,"legendY":23.3,"gradientLength":245.4,"gradientThickness":12.4}}}},
{"data":{"values":[{}]},"mark":{"type":"text","text":"Stars","align":"right"},"encoding":{
"x":{"datum":13.17,"type":"quantitative","scale":{"domain":[-16,16],"range":[88.7,347.9]},"axis":{"orient":"top","offset":-16.1,"values":[-15,-14,-13,-12,-11,-10,-9,-8,-7,-6,-5,-4,-3,-2,-1,0,1,2,3,4,5,6,7,8,9,10,11,12,13,14,15],"labels":false,"title":null,"tickSize":{"condition":{"test":"datum.value%5===0","value":-6},"value":-3}}},
"y":{"datum":12.3,"type":"quantitative","scale":{"domain":[-16,16],"range":[275.3,16.1]},"axis":{"orient":"right","offset":-483.1,"values":[-15,-14,-13,-12,-11,-10,-9,-8,-7,-6,-5,-4,-3,-2,-1,0,1,2,3,4,5,6,7,8,9,10,11,12,13,14,15],"labels":false,"title":null,"tickSize":{"condition":{"test":"datum.value%5===0","value":-6},"value":-3}}}}},
{"data":{"values":[{}]},"mark":{"type":"text","text":"PA"},"encoding":{"x":{"datum":3.91,"type":"quantitative","scale":{"domain":[-16,16],"range":[88.7,347.9]},"axis":null},"y":{"datum":-14.3,"type":"quantitative","scale":{"domain":[-16,16],"range":[275.3,16.1]},"axis":null}}},
{"data":{"values":[{}]},"mark":{"type":"text","text":"stars","fontSize":12},"encoding":{"x":{"datum":6.38,"type":"quantitative","scale":{"domain":[-16,16],"range":[88.7,347.9]},"axis":null},"y":{"datum":-14.65,"type":"quantitative","scale":{"domain":[-16,16],"range":[275.3,16.1]},"axis":null}}},
{"data":{"values":[{}]},"mark":{"type":"text","text":"= 210°"},"encoding":{"x":{"datum":9.68,"type":"quantitative","scale":{"domain":[-16,16],"range":[88.7,347.9]},"axis":null},"y":{"datum":-14.3,"type":"quantitative","scale":{"domain":[-16,16],"range":[275.3,16.1]},"axis":null}}},
{"data":{"values":[{}]},"mark":{"type":"point","opacity":0},"encoding":{"y":{"datum":0,"type":"quantitative","scale":{"domain":[-64,62.6],"range":[268.7,23.3]},"axis":{"orient":"right","offset":-454.3,"values":[-60,-45,-30,-15,0,15,30,45,60],"tickSize":-4,"labelPadding":7,"title":"Velocity (km s⁻¹)","titleAngle":90,"titleX":39,"titleY":150,"domain":false}}}},

{"data":{"name":"sfGas"},"mark":{"type":"rect","width":4.6,"height":4.6},"encoding":{
"x":{"field":"x","type":"quantitative","scale":{"domain":[-16,16],"range":[477.7,737.3]},"axis":{"orient":"bottom","offset":-367.7,"values":[-15,-14,-13,-12,-11,-10,-9,-8,-7,-6,-5,-4,-3,-2,-1,0,1,2,3,4,5,6,7,8,9,10,11,12,13,14,15],"labelExpr":"datum.value%5===0?datum.label:''","tickSize":{"condition":{"test":"datum.value%5===0","value":-6},"value":-3},"labelPadding":10,"title":"X Offset (″)","titleX":607,"titleY":33}},
"y":{"field":"y","type":"quantitative","scale":{"domain":[-16,16],"range":[275.3,16.1]},"axis":{"orient":"left","offset":-477.7,"values":[-15,-14,-13,-12,-11,-10,-9,-8,-7,-6,-5,-4,-3,-2,-1,0,1,2,3,4,5,6,7,8,9,10,11,12,13,14,15],"labelExpr":"datum.value%5===0?datum.label:''","tickSize":{"condition":{"test":"datum.value%5===0","value":-6},"value":-3},"labelPadding":8,"title":"Y Offset (″)","titleX":-46,"titleY":148}},
"color":{"field":"v","type":"quantitative","scale":{"scheme":"viridis","domain":[-84.5,84.5]},"legend":{"orient":"none","direction":"vertical","legendX":752.7,"legendY":23.3,"gradientLength":245.4,"gradientThickness":13}}}},
{"data":{"values":[{}]},"mark":{"type":"text","text":"Ionised gas","align":"right"},"encoding":{
"x":{"datum":14.1,"type":"quantitative","scale":{"domain":[-16,16],"range":[477.7,737.3]},"axis":{"orient":"top","offset":-16.1,"values":[-15,-14,-13,-12,-11,-10,-9,-8,-7,-6,-5,-4,-3,-2,-1,0,1,2,3,4,5,6,7,8,9,10,11,12,13,14,15],"labels":false,"title":null,"tickSize":{"condition":{"test":"datum.value%5===0","value":-6},"value":-3}}},
"y":{"datum":12.35,"type":"quantitative","scale":{"domain":[-16,16],"range":[275.3,16.1]},"axis":{"orient":"right","offset":-93.7,"values":[-15,-14,-13,-12,-11,-10,-9,-8,-7,-6,-5,-4,-3,-2,-1,0,1,2,3,4,5,6,7,8,9,10,11,12,13,14,15],"labels":false,"title":null,"tickSize":{"condition":{"test":"datum.value%5===0","value":-6},"value":-3}}}}},
{"data":{"values":[{}]},"mark":{"type":"text","text":"PA"},"encoding":{"x":{"datum":4.16,"type":"quantitative","scale":{"domain":[-16,16],"range":[477.7,737.3]},"axis":null},"y":{"datum":-14.3,"type":"quantitative","scale":{"domain":[-16,16],"range":[275.3,16.1]},"axis":null}}},
{"data":{"values":[{}]},"mark":{"type":"text","text":"gas","fontSize":12},"encoding":{"x":{"datum":6.63,"type":"quantitative","scale":{"domain":[-16,16],"range":[477.7,737.3]},"axis":null},"y":{"datum":-14.65,"type":"quantitative","scale":{"domain":[-16,16],"range":[275.3,16.1]},"axis":null}}},
{"data":{"values":[{}]},"mark":{"type":"text","text":"= 228°"},"encoding":{"x":{"datum":9.23,"type":"quantitative","scale":{"domain":[-16,16],"range":[477.7,737.3]},"axis":null},"y":{"datum":-14.3,"type":"quantitative","scale":{"domain":[-16,16],"range":[275.3,16.1]},"axis":null}}},
{"data":{"values":[{}]},"mark":{"type":"point","opacity":0},"encoding":{"y":{"datum":0,"type":"quantitative","scale":{"domain":[-84.8,83.5],"range":[268.7,23.3]},"axis":{"orient":"right","offset":-65,"values":[-80,-60,-40,-20,0,20,40,60,80],"tickSize":-4,"labelPadding":7,"title":"Velocity (km s⁻¹)","titleAngle":90,"titleX":40,"titleY":150,"domain":false}}}},

{"data":{"name":"agnStars"},"mark":{"type":"rect","width":8.2,"height":8.2},"encoding":{
"x":{"field":"x","type":"quantitative","scale":{"domain":[-8.5,8.5],"range":[81.7,344]},"axis":{"orient":"bottom","offset":-50.3,"values":[-8,-7,-6,-5,-4,-3,-2,-1,0,1,2,3,4,5,6,7,8],"labelExpr":"datum.value%5===0?datum.label:''","tickSize":{"condition":{"test":"datum.value%5===0","value":-6},"value":-3},"labelPadding":10,"title":"X Offset (″)","titleX":212.3,"titleY":32}},
"y":{"field":"y","type":"quantitative","scale":{"domain":[-8.5,8.5],"range":[592.7,330.7]},"axis":{"orient":"left","offset":-81.7,"values":[-8,-7,-6,-5,-4,-3,-2,-1,0,1,2,3,4,5,6,7,8],"labelExpr":"datum.value%5===0?datum.label:''","tickSize":{"condition":{"test":"datum.value%5===0","value":-6},"value":-3},"labelPadding":8,"title":"Y Offset (″)","titleX":-40,"titleY":464}},
"color":{"field":"v","type":"quantitative","scale":{"domain":[-45.7,-36.56,-27.42,-18.28,-9.14,0,9.14,18.28,27.42,36.56,45.7],"range":["#053061","#2166ac","#4393c3","#92c5de","#d1e5f0","#f7f7f7","#fddbc7","#f4a582","#d6604d","#b2182b","#67001f"]},"legend":{"orient":"none","direction":"vertical","legendX":359.3,"legendY":337.7,"gradientLength":247.3,"gradientThickness":13.4}}}},
{"data":{"values":[{}]},"mark":{"type":"text","text":"Stars","align":"right"},"encoding":{
"x":{"datum":7,"type":"quantitative","scale":{"domain":[-8.5,8.5],"range":[81.7,344]},"axis":{"orient":"top","offset":-330.7,"values":[-8,-7,-6,-5,-4,-3,-2,-1,0,1,2,3,4,5,6,7,8],"labels":false,"title":null,"tickSize":{"condition":{"test":"datum.value%5===0","value":-6},"value":-3}}},
"y":{"datum":6.53,"type":"quantitative","scale":{"domain":[-8.5,8.5],"range":[592.7,330.7]},"axis":{"orient":"right","offset":-487,"values":[-8,-7,-6,-5,-4,-3,-2,-1,0,1,2,3,4,5,6,7,8],"labels":false,"title":null,"tickSize":{"condition":{"test":"datum.value%5===0","value":-6},"value":-3}}}}},
{"data":{"values":[{}]},"mark":{"type":"text","text":"PA"},"encoding":{"x":{"datum":2.32,"type":"quantitative","scale":{"domain":[-8.5,8.5],"range":[81.7,344]},"axis":null},"y":{"datum":-7.54,"type":"quantitative","scale":{"domain":[-8.5,8.5],"range":[592.7,330.7]},"axis":null}}},
{"data":{"values":[{}]},"mark":{"type":"text","text":"stars","fontSize":12},"encoding":{"x":{"datum":3.6,"type":"quantitative","scale":{"domain":[-8.5,8.5],"range":[81.7,344]},"axis":null},"y":{"datum":-7.74,"type":"quantitative","scale":{"domain":[-8.5,8.5],"range":[592.7,330.7]},"axis":null}}},
{"data":{"values":[{}]},"mark":{"type":"text","text":"= 45°"},"encoding":{"x":{"datum":5.4,"type":"quantitative","scale":{"domain":[-8.5,8.5],"range":[81.7,344]},"axis":null},"y":{"datum":-7.54,"type":"quantitative","scale":{"domain":[-8.5,8.5],"range":[592.7,330.7]},"axis":null}}},
{"data":{"values":[{}]},"mark":{"type":"point","opacity":0},"encoding":{"y":{"datum":0,"type":"quantitative","scale":{"domain":[-46.2,45.1],"range":[585,337.7]},"axis":{"orient":"right","offset":-458.3,"values":[-40,-30,-20,-10,0,10,20,30,40],"tickSize":-4,"labelPadding":7,"title":"Velocity (km s⁻¹)","titleAngle":90,"titleX":41,"titleY":465,"domain":false}}}},

{"data":{"name":"agnGas"},"mark":{"type":"rect","width":8.2,"height":8.2},"encoding":{
"x":{"field":"x","type":"quantitative","scale":{"domain":[-8.5,8.5],"range":[474.3,736.7]},"axis":{"orient":"bottom","offset":-50.3,"values":[-8,-7,-6,-5,-4,-3,-2,-1,0,1,2,3,4,5,6,7,8],"labelExpr":"datum.value%5===0?datum.label:''","tickSize":{"condition":{"test":"datum.value%5===0","value":-6},"value":-3},"labelPadding":10,"title":"X Offset (″)","titleX":605,"titleY":32}},
"y":{"field":"y","type":"quantitative","scale":{"domain":[-8.5,8.5],"range":[592.7,330.7]},"axis":{"orient":"left","offset":-474.3,"values":[-8,-7,-6,-5,-4,-3,-2,-1,0,1,2,3,4,5,6,7,8],"labelExpr":"datum.value%5===0?datum.label:''","tickSize":{"condition":{"test":"datum.value%5===0","value":-6},"value":-3},"labelPadding":8,"title":"Y Offset (″)","titleX":-39.3,"titleY":463}},
"color":{"field":"v","type":"quantitative","scale":{"scheme":"viridis","domain":[-38.7,38.7]},"legend":{"orient":"none","direction":"vertical","legendX":752.7,"legendY":337.7,"gradientLength":247.3,"gradientThickness":13}}}},
{"data":{"values":[{}]},"mark":{"type":"text","text":"Ionised gas","align":"right"},"encoding":{
"x":{"datum":7.55,"type":"quantitative","scale":{"domain":[-8.5,8.5],"range":[474.3,736.7]},"axis":{"orient":"top","offset":-330.7,"values":[-8,-7,-6,-5,-4,-3,-2,-1,0,1,2,3,4,5,6,7,8],"labels":false,"title":null,"tickSize":{"condition":{"test":"datum.value%5===0","value":-6},"value":-3}}},
"y":{"datum":6.53,"type":"quantitative","scale":{"domain":[-8.5,8.5],"range":[592.7,330.7]},"axis":{"orient":"right","offset":-94.3,"values":[-8,-7,-6,-5,-4,-3,-2,-1,0,1,2,3,4,5,6,7,8],"labels":false,"title":null,"tickSize":{"condition":{"test":"datum.value%5===0","value":-6},"value":-3}}}}},
{"data":{"values":[{}]},"mark":{"type":"text","text":"PA"},"encoding":{"x":{"datum":2.24,"type":"quantitative","scale":{"domain":[-8.5,8.5],"range":[474.3,736.7]},"axis":null},"y":{"datum":-7.54,"type":"quantitative","scale":{"domain":[-8.5,8.5],"range":[592.7,330.7]},"axis":null}}},
{"data":{"values":[{}]},"mark":{"type":"text","text":"gas","fontSize":12},"encoding":{"x":{"datum":3.58,"type":"quantitative","scale":{"domain":[-8.5,8.5],"range":[474.3,736.7]},"axis":null},"y":{"datum":-7.74,"type":"quantitative","scale":{"domain":[-8.5,8.5],"range":[592.7,330.7]},"axis":null}}},
{"data":{"values":[{}]},"mark":{"type":"text","text":"= 116°"},"encoding":{"x":{"datum":4.94,"type":"quantitative","scale":{"domain":[-8.5,8.5],"range":[474.3,736.7]},"axis":null},"y":{"datum":-7.54,"type":"quantitative","scale":{"domain":[-8.5,8.5],"range":[592.7,330.7]},"axis":null}}},
{"data":{"values":[{}]},"mark":{"type":"point","opacity":0},"encoding":{"y":{"datum":0,"type":"quantitative","scale":{"domain":[-39.2,38.3],"range":[585,337.7]},"axis":{"orient":"right","offset":-65.3,"values":[-32,-24,-16,-8,0,8,16,24,32],"tickSize":-4,"labelPadding":7,"title":"Velocity (km s⁻¹)","titleAngle":90,"titleX":41,"titleY":465,"domain":false}}}},

{"data":{"values":[{}]},"mark":{"type":"rect","fillOpacity":0,"stroke":"#d9d9d9","strokeWidth":50},"encoding":{"x":{"datum":0,"type":"quantitative","scale":{"domain":[0,831],"range":[0,831]},"axis":null},"x2":{"datum":849},"y":{"datum":-22,"type":"quantitative","scale":{"domain":[0,643],"range":[0,643]},"axis":null},"y2":{"datum":700}}},
{"data":{"values":[{}]},"mark":{"type":"rect","fillOpacity":0,"stroke":"#5ea3d9","strokeWidth":6,"cornerRadius":2},"encoding":{"x":{"datum":27.85,"type":"quantitative","scale":{"domain":[0,831],"range":[0,831]},"axis":null},"x2":{"datum":821.15},"y":{"datum":6.3,"type":"quantitative","scale":{"domain":[0,643],"range":[0,643]},"axis":null},"y2":{"datum":325.8}}},
{"data":{"values":[{}]},"mark":{"type":"rect","fillOpacity":0,"stroke":"#5ea3d9","strokeWidth":6,"cornerRadius":2},"encoding":{"x":{"datum":27.85,"type":"quantitative","scale":{"domain":[0,831],"range":[0,831]},"axis":null},"x2":{"datum":821.15},"y":{"datum":326.3,"type":"quantitative","scale":{"domain":[0,643],"range":[0,643]},"axis":null},"y2":{"datum":643.7}}},
{"data":{"values":[{}]},"mark":{"type":"rect","fill":"#93d069"},"encoding":{"x":{"datum":30,"type":"quantitative","scale":{"domain":[0,831],"range":[0,831]},"axis":null},"x2":{"datum":289},"y":{"datum":9.7,"type":"quantitative","scale":{"domain":[0,643],"range":[0,643]},"axis":null},"y2":{"datum":69}}},
{"data":{"values":[{}]},"mark":{"type":"rect","fill":"#93d069"},"encoding":{"x":{"datum":30,"type":"quantitative","scale":{"domain":[0,831],"range":[0,831]},"axis":null},"x2":{"datum":259},"y":{"datum":326,"type":"quantitative","scale":{"domain":[0,643],"range":[0,643]},"axis":null},"y2":{"datum":384}}},
{"data":{"values":[{}]},"mark":{"type":"text","text":"SF/Composite","font":"Lato","fontSize":29,"color":"#ffffff"},"encoding":{"x":{"datum":50,"type":"quantitative","scale":{"domain":[0,831],"range":[0,831]},"axis":null},"y":{"datum":50,"type":"quantitative","scale":{"domain":[0,643],"range":[0,643]},"axis":null}}},
{"data":{"values":[{}]},"mark":{"type":"text","text":"AGN","font":"Lato","fontSize":28,"color":"#ffffff"},"encoding":{"x":{"datum":50,"type":"quantitative","scale":{"domain":[0,831],"range":[0,831]},"axis":null},"y":{"datum":364,"type":"quantitative","scale":{"domain":[0,643],"range":[0,643]},"axis":null}}}
]}
